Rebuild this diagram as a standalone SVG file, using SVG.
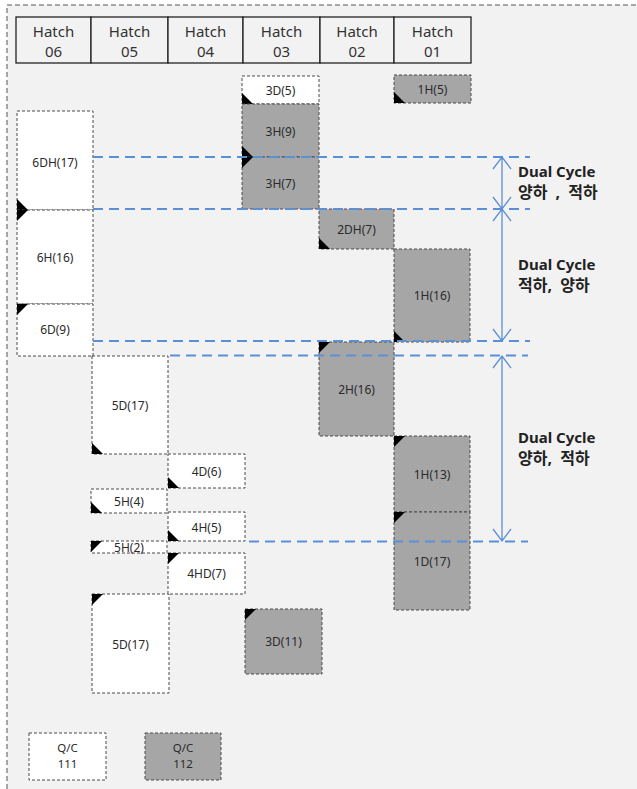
<svg xmlns="http://www.w3.org/2000/svg" width="637" height="789" viewBox="0 0 637 789">
  <style>
    .frame { fill: #f2f2f2; stroke: #555; stroke-width: 1; stroke-dasharray: 5 3; }
    .hdr rect { fill: #f2f2f2; stroke: #222; stroke-width: 1.3; }
    .hdr text { font-family: "Noto Sans", "Open Sans", sans-serif; font-size: 15px; fill: #333; text-anchor: middle; }
    .box rect { stroke: #4a4a4a; stroke-width: 1; stroke-dasharray: 3 2; }
    .w rect { fill: #ffffff; }
    .g rect { fill: #a6a6a6; }
    .box text { font-family: "Noto Sans", "Open Sans", sans-serif; font-size: 12px; fill: #2a2a2a; text-anchor: middle; }
    .box text.qc { font-size: 11.5px; }
    .box path { fill: #000; }
    .guide { stroke: #5b8fd8; stroke-width: 2; stroke-dasharray: 10 6; fill: none; }
    .span { stroke: #5b8fd8; stroke-width: 1.3; fill: none; }
    .note { font-family: "Noto Sans", "Noto Sans CJK KR", sans-serif; font-size: 15px; font-weight: bold; fill: #222; }
    .note.kr { font-size: 16px; word-spacing: 4px; }
  </style>

  <rect width="637" height="789" fill="#ffffff"/>
  <rect class="frame" x="7" y="5" width="640" height="800"/>

  <!-- hatch header -->
  <g id="header" class="hdr">
    <rect x="16" y="17" width="75" height="46"/>
    <rect x="91" y="17" width="77" height="46"/>
    <rect x="168" y="17" width="75" height="46"/>
    <rect x="243" y="17" width="77" height="46"/>
    <rect x="320" y="17" width="74" height="46"/>
    <rect x="394" y="17" width="77" height="46"/>
    <text x="53.5" y="37">Hatch</text><text x="53.5" y="57">06</text>
    <text x="129.5" y="37">Hatch</text><text x="129.5" y="57">05</text>
    <text x="205.5" y="37">Hatch</text><text x="205.5" y="57">04</text>
    <text x="281.5" y="37">Hatch</text><text x="281.5" y="57">03</text>
    <text x="357" y="37">Hatch</text><text x="357" y="57">02</text>
    <text x="432.5" y="37">Hatch</text><text x="432.5" y="57">01</text>
  </g>

  <!-- hatch 06 -->
  <g id="n6DH17" class="box w"><rect x="17" y="111" width="76" height="99"/><path d="M17 199 V210 H28 Z"/><text x="55" y="167">6DH(17)</text></g>
  <g id="n6H16" class="box w"><rect x="17" y="210" width="76" height="94"/><path d="M17 210 H28 L17 221 Z"/><text x="55" y="262">6H(16)</text></g>
  <g id="n6D9" class="box w"><rect x="17" y="304" width="76" height="52"/><path d="M17 304 H28 L17 315 Z"/><text x="55" y="334">6D(9)</text></g>

  <!-- hatch 05 -->
  <g id="n5D17a" class="box w"><rect x="92" y="356" width="76" height="98"/><path d="M92 443 V454 H103 Z"/><text x="130" y="410">5D(17)</text></g>
  <g id="n5H4" class="box w"><rect x="91" y="489" width="76" height="24"/><path d="M91 502 V513 H102 Z"/><text x="129" y="506">5H(4)</text></g>
  <g id="n5H2" class="box w"><rect x="91" y="541" width="76" height="12"/><path d="M91 541 H102 L91 552 Z"/><text x="129" y="552">5H(2)</text></g>
  <g id="n5D17b" class="box w"><rect x="92" y="594" width="77" height="99"/><path d="M92 594 H103 L92 605 Z"/><text x="130.5" y="649">5D(17)</text></g>

  <!-- hatch 04 -->
  <g id="n4D6" class="box w"><rect x="168" y="454" width="77" height="34"/><path d="M168 477 V488 H179 Z"/><text x="206.5" y="476">4D(6)</text></g>
  <g id="n4H5" class="box w"><rect x="168" y="512" width="77" height="29"/><path d="M168 530 V541 H179 Z"/><text x="206.5" y="532">4H(5)</text></g>
  <g id="n4HD7" class="box w"><rect x="168" y="553" width="77" height="41"/><path d="M168 553 H179 L168 564 Z"/><text x="206.5" y="578">4HD(7)</text></g>

  <!-- hatch 03 -->
  <g id="n3D5" class="box w"><rect x="242" y="76" width="77" height="28"/><path d="M242 93 V104 H253 Z"/><text x="280.5" y="95">3D(5)</text></g>
  <g id="n3H9" class="box g"><rect x="242" y="104" width="77" height="53"/><path d="M242 146 V157 H253 Z"/><text x="280.5" y="136">3H(9)</text></g>
  <g id="n3H7" class="box g"><rect x="242" y="157" width="77" height="52"/><path d="M242 157 H253 L242 168 Z"/><text x="280.5" y="188">3H(7)</text></g>
  <g id="n3D11" class="box g"><rect x="245" y="609" width="77" height="65"/><path d="M245 609 H256 L245 620 Z"/><text x="283.5" y="646">3D(11)</text></g>

  <!-- hatch 02 -->
  <g id="n2DH7" class="box g"><rect x="319" y="209" width="75" height="40"/><path d="M319 238 V249 H330 Z"/><text x="356.5" y="234">2DH(7)</text></g>
  <g id="n2H16" class="box g"><rect x="319" y="342" width="75" height="94"/><path d="M319 342 H330 L319 353 Z"/><text x="356.5" y="394">2H(16)</text></g>

  <!-- hatch 01 -->
  <g id="n1H5" class="box g"><rect x="394" y="75" width="77" height="28"/><path d="M394 92 V103 H405 Z"/><text x="432.5" y="94">1H(5)</text></g>
  <g id="n1H16" class="box g"><rect x="394" y="249" width="76" height="93"/><path d="M394 331 V342 H405 Z"/><text x="432" y="300">1H(16)</text></g>
  <g id="n1H13" class="box g"><rect x="394" y="436" width="76" height="76"/><path d="M394 436 H405 L394 447 Z"/><text x="432" y="479">1H(13)</text></g>
  <g id="n1D17" class="box g"><rect x="394" y="512" width="76" height="98"/><path d="M394 512 H405 L394 523 Z"/><text x="432" y="566">1D(17)</text></g>

  <!-- legend -->
  <g id="qc111" class="box w"><rect x="29" y="733" width="77" height="47"/><text class="qc" x="67.5" y="752">Q/C</text><text class="qc" x="67.5" y="768">111</text></g>
  <g id="qc112" class="box g"><rect x="145" y="733" width="76" height="47"/><text class="qc" x="183" y="752">Q/C</text><text class="qc" x="183" y="768">112</text></g>

  <!-- cycle guides and spans -->
  <g id="connectors">
    <line class="guide" x1="93" y1="157" x2="530" y2="157"/>
    <line class="guide" x1="93" y1="209" x2="530" y2="209"/>
    <line class="guide" x1="93" y1="341" x2="530" y2="341"/>
    <line class="guide" x1="170" y1="355.5" x2="528" y2="355.5"/>
    <line class="guide" x1="249" y1="541.5" x2="528" y2="541.5"/>

    <path class="span" d="M502 157 V209 M493 169 L502 157 L511 169 M493 197 L502 209 L511 197"/>
    <path class="span" d="M502 209 V341 M493 221 L502 209 L511 221 M493 329 L502 341 L511 329"/>
    <path class="span" d="M502 356 V541 M493 368 L502 356 L511 368 M493 529 L502 541 L511 529"/>
  </g>

  <g id="labels">
    <text class="note" x="518" y="177">Dual Cycle</text>
    <text class="note kr" x="518" y="198">양하 , 적하</text>
    <text class="note" x="518" y="270">Dual Cycle</text>
    <text class="note kr" x="518" y="291">적하, 양하</text>
    <text class="note" x="518" y="443">Dual Cycle</text>
    <text class="note kr" x="518" y="464">양하, 적하</text>
  </g>
</svg>
